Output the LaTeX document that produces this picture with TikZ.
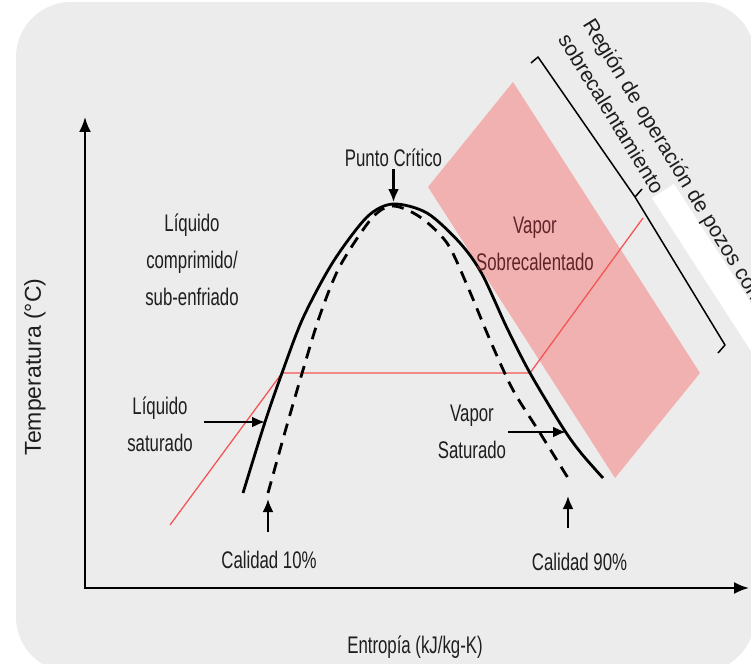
\documentclass[tikz,border=0pt]{standalone}
\usepackage{fontspec}
\setmainfont{Liberation Sans}
\newfontfamily\narrowfont{Liberation Sans}[FakeStretch=0.7]
\usetikzlibrary{arrows.meta}
\definecolor{fondo}{RGB}{236,236,236}
\definecolor{rosa}{RGB}{241,177,177}
\definecolor{rojo}{RGB}{245,85,85}
\definecolor{vino}{RGB}{95,35,40}
\definecolor{texto}{RGB}{30,30,30}
\begin{document}
\begin{tikzpicture}[x=1pt,y=-1pt,>={Latex[length=13pt,width=11pt]},
    lbl/.style={font=\narrowfont\fontsize{24}{37}\selectfont,text=texto,align=center,inner sep=2pt},
    region/.style={font=\fontsize{21}{29}\selectfont,text=texto,align=left,inner sep=0pt},
    curva/.style={line width=2.8pt},
    flecha/.style={->,line width=2.2pt}]
\clip (0,0) rectangle (751,663);
\fill[fondo,rounded corners=55pt] (16,2) rectangle (755,672);
% zona sobrecalentada
\fill[rosa] (428,187) -- (513,82) -- (700,373) -- (615,478) -- cycle;
\fill[white] (674,184) -- (652,198) -- (815,450) -- (837,436) -- cycle;
\draw[rojo,line width=1.3pt] (170,525) -- (282,373) -- (530,373) -- (643,218);
% campana
\draw[curva] plot[smooth] coordinates {(243,493) (265,422) (282,373) (303,318) (333,262)
    (367,217) (393,204) (427,213) (460,243) (482,274) (507,328) (530,373) (563,428) (581,453) (603,478)};
\draw[curva,dash pattern=on 12pt off 8pt] plot[smooth] coordinates {(268,493) (285,432) (303,370)
    (320,315) (340,266) (372,218) (393,206) (420,217) (447,243) (467,285) (490,340) (513,390) (540,433) (568,478)};
% ejes
\coordinate (origen) at (85,588);
\coordinate (ytip) at (85,117);
\coordinate (xtip) at (749,588);
\draw[<->,line width=2.2pt,>={Latex[length=15pt,width=12pt]}] (ytip) -- (origen) -- (xtip);
\node[rotate=90,font=\fontsize{23}{28}\selectfont,text=texto] (temp) at (35,367) {Temperatura (°C)};
\node[lbl,anchor=base] (entropia) at (415,653) {Entropía (kJ/kg-K)};
% corchete
\draw[line width=1.5pt,line join=round] (531,63) -- (538,57) -- (635,197) -- (725,345) -- (718,353);
\draw[line width=1.5pt] (635,197) -- (642,189);
\node[region,rotate=-58.6,anchor=base west] (zona) at (557.5,39) {Región de operación de pozos con\\sobrecalentamiento};
% etiquetas
\node[lbl,anchor=base] (pc) at (393.5,167) {Punto Crítico};
\coordinate (cima) at (393,202);
\draw[flecha] (pc.south) -- (pc.south |- cima);
\node[lbl,anchor=base] (liqcomp) at (192,305) {Líquido\\comprimido/\\sub-enfriado};
\node[lbl,anchor=base,text=vino] (vsob) at (535,270) {Vapor\\Sobrecalentado};
\node[lbl,anchor=base] (liqsat) at (160,451) {Líquido\\saturado};
\coordinate (psat) at (265,422);
\draw[flecha,shorten <=9pt] (liqsat.east |- psat) -- (psat);
\node[lbl,anchor=base] (vsat) at (472,458) {Vapor\\Saturado};
\coordinate (vsatp) at (566,432);
\draw[flecha] (vsat.east |- vsatp) -- (vsatp);
\node[lbl,anchor=base] (c10) at (269,568) {Calidad 10\%};
\coordinate (q10) at (268,499);
\draw[flecha,shorten <=16pt] (c10.north -| q10) -- (q10);
\node[lbl,anchor=base] (c90) at (579.5,570) {Calidad 90\%};
\coordinate (q90) at (568,496);
\draw[flecha,shorten <=22pt] (c90.north -| q90) -- (q90);
\end{tikzpicture}
\end{document}
